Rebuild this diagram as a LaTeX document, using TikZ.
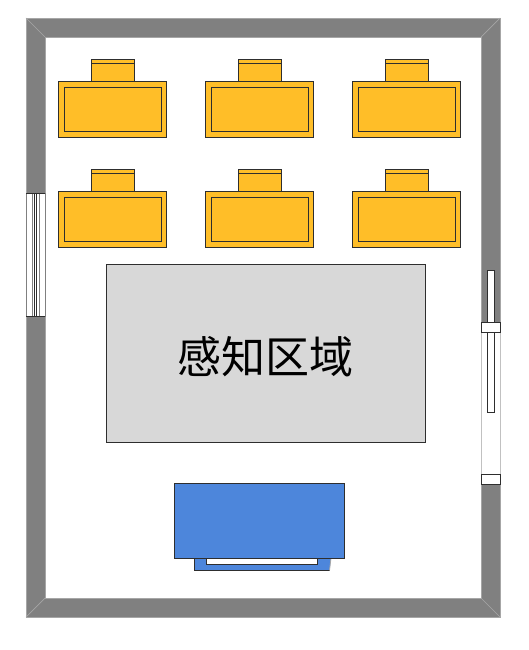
\documentclass[tikz,border=0pt]{standalone}
\usepackage{fontspec}
\newfontfamily\cjk{Noto Sans CJK SC}
\definecolor{wallgray}{HTML}{808080}
\definecolor{walledge}{HTML}{A6A6A6}
\definecolor{deskfill}{HTML}{FFBE28}
\definecolor{zonefill}{HTML}{D8D8D8}
\definecolor{tvblue}{HTML}{4D86DB}
\definecolor{inkline}{HTML}{2E2E2E}
\tikzset{
  ink/.style={draw=inkline,line width=0.8pt},
  deskpart/.style={ink,fill=deskfill},
  opening/.style={ink,fill=white},
  pics/deskset/.style={code={
    \draw[deskpart] (32.8,-22.2) rectangle (75.8,0);
    \draw[ink] (32.8,-18.2) -- (75.8,-18.2);
    \draw[deskpart] (0,0) rectangle (108,56);
    \draw[ink] (6,6) rectangle (102.5,50);
  }}
}
\begin{document}
\begin{tikzpicture}[x=1pt,y=-1pt]
\useasboundingbox (0,0) rectangle (529,650);
\fill[white] (0,0) rectangle (529,650);
% walls
\fill[wallgray] (26,18) rectangle (500,617);
\fill[white] (45,37) rectangle (481,598);
\draw[walledge,line width=0.8pt] (26,18) rectangle (500,617);
\draw[walledge,line width=0.8pt] (45,37) rectangle (481,598);
\draw[walledge,line width=0.7pt] (26,18) -- (45,37) (500,18) -- (481,37) (26,617) -- (45,598) (500,617) -- (481,598);
% desks
\foreach \dx in {58.5,205.5,352.5}
  \foreach \dy in {81.5,191.5}
    \pic at (\dx,\dy) {deskset};
% left window
\fill[white] (26,193) rectangle (45,316);
\draw[draw=wallgray,line width=0.8pt] (26,193) rectangle (45,316);
\draw[draw=wallgray,line width=0.8pt] (32,193) -- (32,316) (39,193) -- (39,316);
\draw[ink] (26,193) -- (45,193) (26,316) -- (45,316) (34.2,193) -- (34.2,316) (36.8,193) -- (36.8,316);
% right door
\fill[white] (481,332) rectangle (500,474);
\draw[walledge!70,line width=0.8pt] (481,332) -- (481,474) (500,332) -- (500,474);
\draw[opening] (487.5,270) rectangle (494,412);
\draw[opening] (481,322.5) rectangle (500,332);
\draw[opening] (481,474.5) rectangle (500,484);
% sensing area
\node[draw=inkline,line width=0.6pt,fill=zonefill,minimum width=319pt,minimum height=178pt,inner sep=0pt] (zone) at (266,353.5) {};
\node[inner sep=0pt,font=\cjk\fontsize{44}{50}\selectfont,text=black] (zonelabel) at (265.5,357) {感知区域};
% screen
\fill[tvblue] (194.5,558) -- (194.5,570.5) -- (329.5,570.5) -- (331,558) -- cycle;
\draw[ink] (194.5,558) -- (194.5,570.5) -- (329.5,570.5);
\draw[walledge,line width=0.8pt] (329.5,570.5) -- (331,558);
\draw[opening] (206.5,558.5) rectangle (317.5,564.5);
\draw[ink,fill=tvblue] (174.5,483.5) rectangle (344.5,558.5);
\end{tikzpicture}
\end{document}
